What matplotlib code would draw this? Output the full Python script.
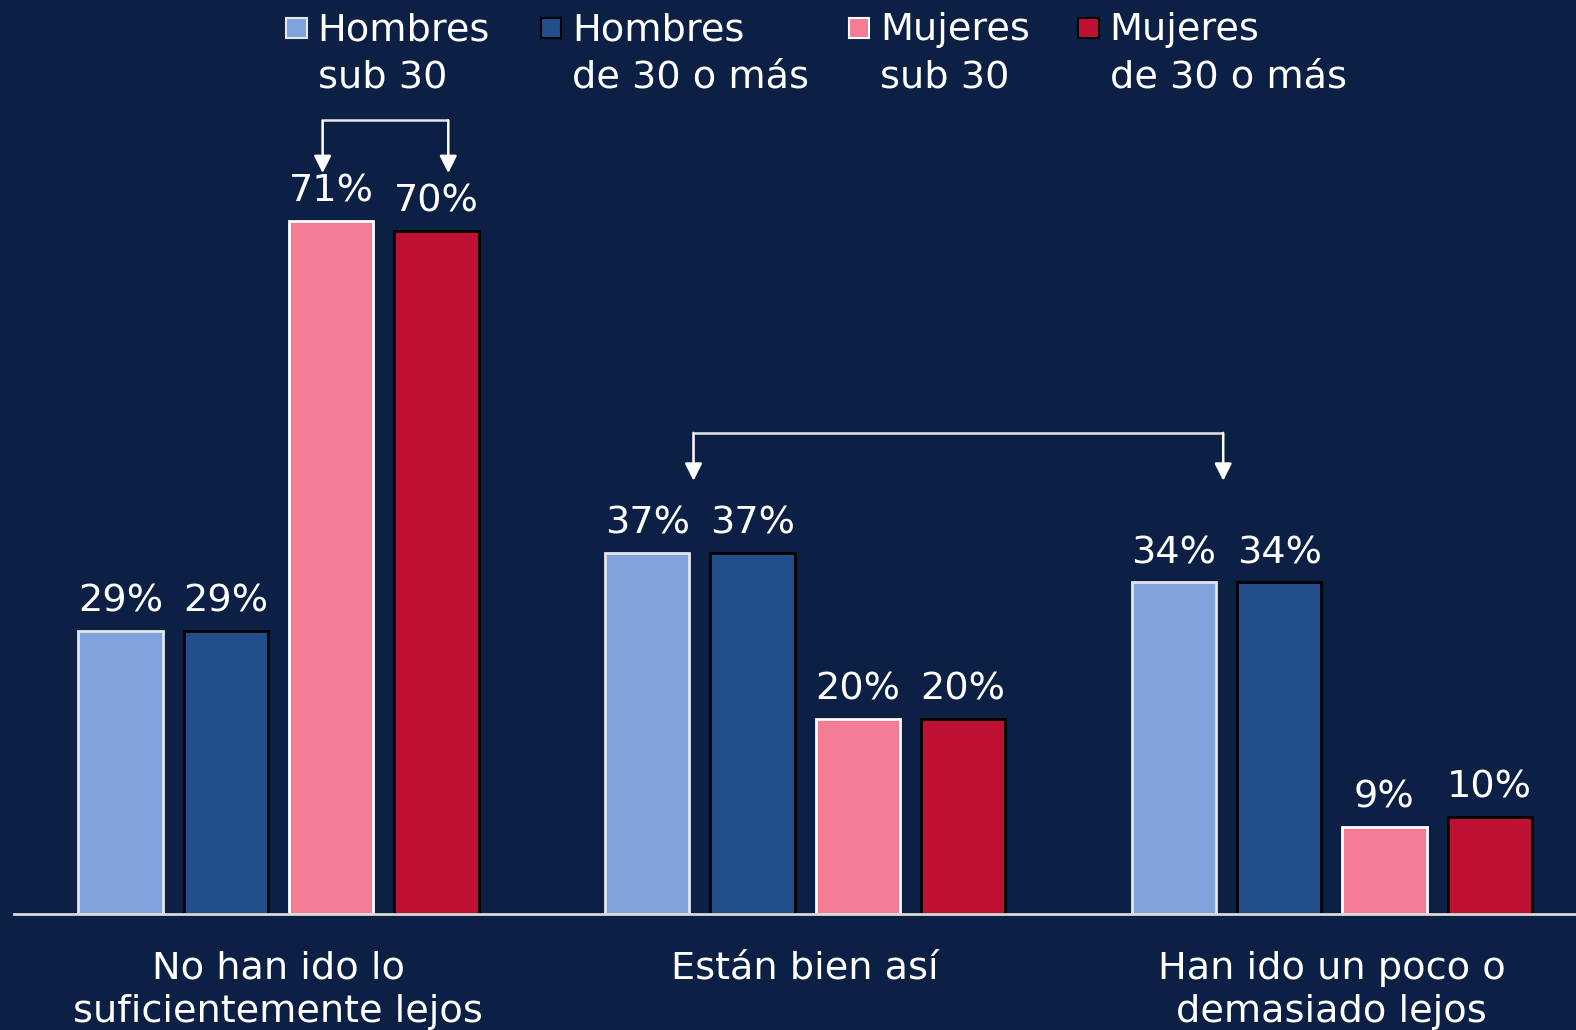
import matplotlib.pyplot as plt
from matplotlib.patches import Rectangle

# data
categories = ["No han ido lo\nsuficientemente lejos", "Están bien así", "Han ido un poco o\ndemasiado lejos"]
series_names = ["Hombres\nsub 30", "Hombres\nde 30 o más", "Mujeres\nsub 30", "Mujeres\nde 30 o más"]
hombres_sub30 = [29, 37, 34]
hombres_30mas = [29, 37, 34]
mujeres_sub30 = [71, 20, 9]
mujeres_30mas = [70, 20, 10]

series = [hombres_sub30, hombres_30mas, mujeres_sub30, mujeres_30mas]
colors = ["#7FA3DC", "#234E8C", "#F47C94", "#BE1133"]
edges = ["#E6E6E6", "#000000", "#FFFFFF", "#000000"]
bg = "#0C1F45"

plt.rcParams['font.family'] = ['DejaVu Sans']
fs = 27.5

fig = plt.figure(figsize=(15.76, 10.30), dpi=100, facecolor=bg)
W, H = 1568, 1025  # reference px space
ytop = 88
ax = fig.add_axes([14 / W, 1 - 910 / H, 1 - 14 / W, ytop * 9.72 / H])
ax.set_facecolor(bg)

group_x = [0, 5, 10]
offsets = [-1.5, -0.5, 0.5, 1.5]
for vals, off, c, ec in zip(series, offsets, colors, edges):
    xs = [g + off for g in group_x]
    ax.bar(xs, vals, width=0.8, color=c, edgecolor=ec, linewidth=2, zorder=2)
    for x, v in zip(xs, vals):
        ax.text(x, v + 3.0, f"{v}%", ha='center', va='center', color='white', fontsize=fs)

ax.set_xlim((14 - 277) / 104.8, (1568 - 277) / 104.8)
ax.set_ylim(0, ytop)
ax.set_yticks([])
ax.set_xticks(group_x)
ax.set_xticklabels(categories, color='white', fontsize=fs, linespacing=1.27)
ax.tick_params(axis='x', length=0, pad=26)
for s in ['top', 'right', 'left']:
    ax.spines[s].set_visible(False)
ax.spines['bottom'].set_color('#D9D9D9')
ax.spines['bottom'].set_linewidth(2)
ax.spines['bottom'].set_zorder(3)

# brackets with arrows
def bracket(x1, x2, y_top, y_tip):
    ax.plot([x1, x2], [y_top, y_top], color='#E6E6E6', lw=1.8, solid_capstyle='butt')
    for x in (x1, x2):
        ax.annotate('', xy=(x, y_tip), xytext=(x, y_top),
                    arrowprops=dict(arrowstyle='-|>', color='white', lw=1.8,
                                    mutation_scale=26, shrinkA=0, shrinkB=0))

bracket((321 - 277) / 104.8, (446 - 277) / 104.8, 81.3, 75.9)
bracket((690 - 277) / 104.8, (1217 - 277) / 104.8, 49.3, 44.4)

# legend drawn by hand
leg_sq_x = [285, 538, 845, 1073]
leg_txt_x = [316, 569, 876, 1104]
for name, c, ec, sx, tx in zip(series_names, colors, edges, leg_sq_x, leg_txt_x):
    fig.patches.append(Rectangle((sx / W, 1 - 38 / H), 20 / W, 20 / H, transform=fig.transFigure,
                                 facecolor=c, edgecolor=ec, linewidth=1.5))
    fig.text(tx / W, 1 - 12 / H, name, ha='left', va='top', color='white', fontsize=fs, linespacing=1.4)

fig.savefig("out.png", dpi=100, facecolor=bg)
